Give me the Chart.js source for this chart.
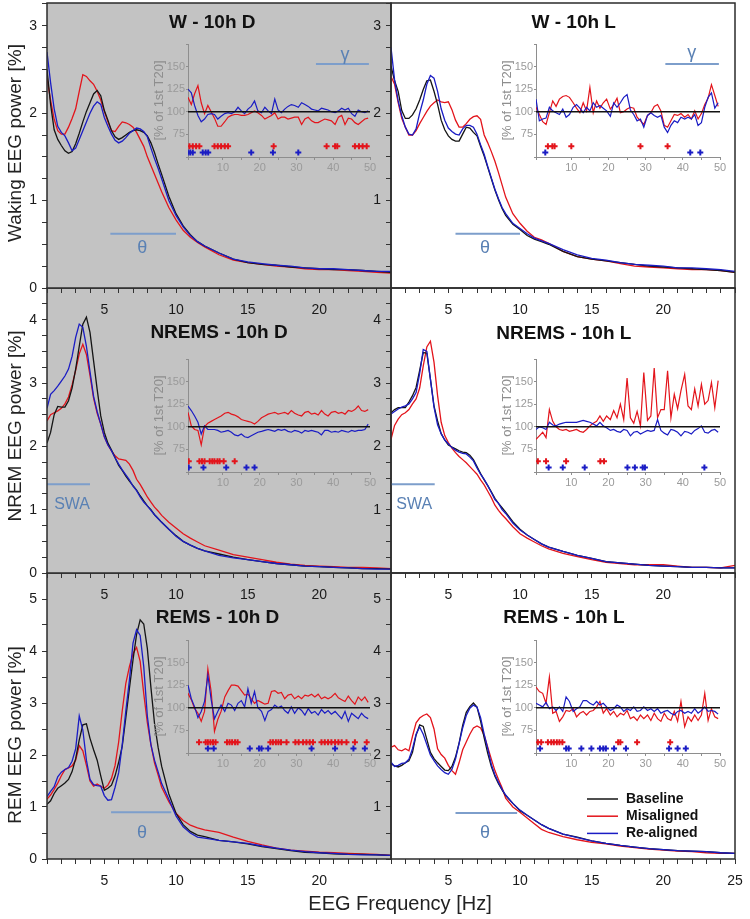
<!DOCTYPE html>
<html><head><meta charset="utf-8">
<script src="https://cdn.jsdelivr.net/npm/chart.js@4.4.1/dist/chart.umd.min.js"></script>
<style>
html,body{margin:0;padding:0;background:#fff;}
#wrap{position:relative;width:750px;height:919px;overflow:hidden;font-family:"Liberation Sans",Arial,sans-serif;}
canvas{position:absolute;}
.yt{position:absolute;white-space:nowrap;font-size:19px;color:#222;transform:translate(-50%,-50%) rotate(-90deg);z-index:100;}
.xt{position:absolute;white-space:nowrap;font-size:20px;color:#222;transform:translate(-50%,-50%);z-index:100;}
</style></head><body><div id="wrap">
<div class="yt" style="left:15px;top:143px">Waking EEG power [%]</div>
<div class="yt" style="left:15px;top:426px">NREM EEG power [%]</div>
<div class="yt" style="left:15px;top:735px">REM EEG power [%]</div>
<div class="xt" style="left:400px;top:903px">EEG Frequency [Hz]</div>
</div>
<script>
// ---------- main spectra: frequency grid (Hz) ----------
const F_MAIN = [1,1.25,1.5,1.75,2,2.25,2.5,2.75,3,3.25,3.5,3.75,4,4.25,4.5,4.75,5,5.25,5.5,5.75,6,6.25,6.5,6.75,7,7.25,7.5,7.75,8,8.25,8.5,8.75,9,9.5,10,10.5,11,11.5,12,13,14,15,16,17,18,19,20,21,22,23,24,25];

// Waking, 10h D
const wD_black = [2.50,2.10,1.81,1.70,1.63,1.57,1.54,1.56,1.65,1.77, 1.90,2.02,2.12,2.22,2.26,2.20,2.03,1.92,1.80,1.73, 1.70,1.72,1.75,1.78,1.80,1.81,1.80,1.78,1.74,1.66, 1.55,1.42,1.30,1.05,0.85,0.71,0.61,0.53,0.48,0.40, 0.33,0.29,0.27,0.26,0.24,0.23,0.22,0.21,0.21,0.20, 0.19,0.18];
const wD_red   = [2.40,2.15,1.93,1.80,1.76,1.76,1.84,1.94,2.05,2.25, 2.44,2.42,2.37,2.33,2.25,2.15,2.02,1.90,1.80,1.79, 1.85,1.90,1.89,1.87,1.84,1.78,1.70,1.62,1.50,1.40, 1.30,1.20,1.10,0.92,0.78,0.66,0.58,0.52,0.47,0.38, 0.32,0.29,0.27,0.25,0.24,0.22,0.21,0.21,0.20,0.19, 0.18,0.17];
const wD_blue  = [2.70,2.35,2.05,1.85,1.78,1.74,1.66,1.57,1.60,1.70, 1.80,1.90,2.00,2.08,2.13,2.10,1.95,1.85,1.76,1.69, 1.66,1.68,1.72,1.77,1.80,1.83,1.82,1.79,1.73,1.60, 1.48,1.37,1.25,1.00,0.83,0.70,0.60,0.53,0.48,0.40, 0.33,0.30,0.28,0.26,0.25,0.23,0.22,0.22,0.21,0.20, 0.19,0.19];
// Waking, 10h L
const wL_black = [2.54,2.37,2.25,2.03,1.94,1.94,1.98,2.05,2.15,2.27, 2.37,2.38,2.25,2.10,1.92,1.81,1.74,1.70,1.68,1.68, 1.76,1.84,1.83,1.78,1.74,1.62,1.51,1.38,1.25,1.12, 1.01,0.91,0.83,0.73,0.67,0.60,0.56,0.53,0.50,0.42, 0.36,0.33,0.31,0.29,0.27,0.25,0.24,0.23,0.22,0.21, 0.20,0.18];
const wL_red   = [2.42,2.33,2.12,1.94,1.84,1.75,1.75,1.80,1.88,1.95, 2.02,2.08,2.12,2.15,2.13,2.12,2.13,2.04,1.92,1.84, 1.84,1.88,1.93,1.96,1.97,1.93,1.75,1.66,1.56,1.45, 1.32,1.18,1.04,0.85,0.74,0.65,0.58,0.55,0.51,0.42, 0.36,0.33,0.31,0.28,0.25,0.24,0.23,0.22,0.21,0.21, 0.20,0.18];
const wL_blue  = [2.75,2.38,2.14,1.97,1.84,1.76,1.75,1.82,2.00,2.15, 2.33,2.43,2.40,2.25,2.05,1.92,1.83,1.79,1.76,1.75, 1.82,1.86,1.86,1.84,1.76,1.64,1.53,1.39,1.26,1.13, 1.02,0.92,0.85,0.74,0.68,0.62,0.57,0.54,0.51,0.44, 0.38,0.34,0.32,0.29,0.27,0.26,0.25,0.23,0.23,0.22, 0.21,0.19];
// NREM, 10h D
const nD_black = [2.05,2.22,2.50,2.63,2.62,2.62,2.72,2.92,3.22,3.58, 3.93,4.04,3.80,3.35,2.90,2.48,2.22,2.05,1.94,1.82, 1.70,1.62,1.53,1.45,1.38,1.31,1.22,1.14,1.06,1.00, 0.92,0.86,0.80,0.69,0.59,0.50,0.44,0.39,0.35,0.30, 0.25,0.21,0.18,0.15,0.13,0.11,0.10,0.09,0.08,0.07, 0.07,0.06];
const nD_red   = [2.40,2.50,2.53,2.56,2.60,2.67,2.78,2.97,3.20,3.46, 3.61,3.45,3.12,2.76,2.52,2.35,2.15,2.02,1.93,1.85, 1.80,1.79,1.78,1.72,1.62,1.48,1.40,1.30,1.20,1.12, 1.04,0.98,0.91,0.80,0.71,0.62,0.55,0.49,0.43,0.36, 0.29,0.25,0.21,0.17,0.14,0.12,0.11,0.10,0.09,0.09, 0.08,0.07];
const nD_blue  = [2.60,2.82,2.88,2.95,3.03,3.11,3.22,3.42,3.72,3.93, 3.88,3.58,3.18,2.79,2.55,2.35,2.15,2.02,1.93,1.82, 1.72,1.63,1.55,1.47,1.37,1.30,1.20,1.12,1.06,0.99, 0.92,0.86,0.80,0.69,0.58,0.50,0.44,0.39,0.35,0.28, 0.24,0.21,0.18,0.15,0.13,0.11,0.10,0.09,0.08,0.07, 0.06,0.06];
// NREM, 10h L
const nL_black = [2.53,2.58,2.61,2.61,2.61,2.70,2.80,2.93,3.20,3.48, 3.47,3.06,2.64,2.40,2.20,2.10,2.02,1.99,1.96,1.93, 1.91,1.90,1.86,1.79,1.68,1.57,1.47,1.38,1.28,1.18, 1.10,1.03,0.96,0.81,0.69,0.60,0.53,0.46,0.41,0.34, 0.28,0.23,0.18,0.16,0.14,0.12,0.11,0.10,0.09,0.09, 0.08,0.08];
const nL_red   = [2.11,2.33,2.43,2.50,2.53,2.58,2.67,2.75,2.92,3.27, 3.57,3.66,3.33,2.80,2.38,2.17,2.06,1.97,1.90,1.84, 1.79,1.74,1.68,1.62,1.56,1.47,1.39,1.29,1.19,1.07, 0.99,0.92,0.86,0.73,0.62,0.55,0.49,0.43,0.38,0.31, 0.26,0.21,0.17,0.15,0.13,0.13,0.13,0.11,0.09,0.09, 0.08,0.12];
const nL_blue  = [2.51,2.55,2.59,2.62,2.64,2.67,2.75,2.85,3.15,3.53, 3.50,3.06,2.62,2.34,2.20,2.10,2.04,1.98,1.94,1.91, 1.89,1.88,1.83,1.77,1.66,1.56,1.48,1.38,1.27,1.16, 1.10,1.00,0.94,0.79,0.68,0.60,0.53,0.46,0.41,0.34, 0.28,0.23,0.18,0.16,0.14,0.12,0.11,0.10,0.09,0.09, 0.08,0.08];
// REM, 10h D
const rD_black = [1.05,1.12,1.26,1.36,1.41,1.46,1.53,1.68,1.93,2.29, 2.58,2.60,2.32,2.10,1.90,1.60,1.32,1.36,1.42,1.60, 1.86,2.17,2.72,3.28,3.83,4.32,4.60,4.52,4.05,3.30, 2.61,2.15,1.78,1.25,0.88,0.66,0.53,0.46,0.43,0.36, 0.33,0.29,0.24,0.20,0.16,0.13,0.12,0.10,0.09,0.09, 0.08,0.07];
const rD_red   = [1.15,1.23,1.34,1.46,1.60,1.72,1.75,1.79,1.90,2.18, 2.08,1.80,1.50,1.40,1.44,1.40,1.36,1.42,1.55,1.80, 2.25,2.85,3.38,3.70,3.95,4.07,3.80,3.18,2.62,2.20, 1.85,1.62,1.38,1.10,0.88,0.74,0.65,0.60,0.56,0.51, 0.42,0.34,0.27,0.21,0.17,0.15,0.13,0.12,0.11,0.10, 0.09,0.07];
const rD_blue  = [1.20,1.30,1.39,1.58,1.67,1.72,1.76,1.88,2.12,2.75, 2.48,1.90,1.53,1.43,1.41,1.40,1.22,1.13,1.14,1.38, 1.66,2.20,2.85,3.44,4.15,4.41,4.30,3.70,2.75,2.20, 1.90,1.68,1.45,1.15,0.83,0.62,0.50,0.42,0.40,0.36, 0.33,0.30,0.25,0.21,0.17,0.14,0.12,0.11,0.09,0.08, 0.08,0.07];
// REM, 10h L
const rL_black = [1.83,1.79,1.77,1.80,1.85,1.89,2.05,2.38,2.58,2.55, 2.30,2.05,1.93,1.85,1.78,1.71,1.70,1.78,1.96,2.23, 2.57,2.82,2.93,3.00,2.92,2.65,2.33,2.03,1.78,1.59, 1.45,1.33,1.22,1.07,0.93,0.84,0.75,0.66,0.59,0.48, 0.42,0.35,0.30,0.26,0.23,0.20,0.18,0.16,0.15,0.14, 0.12,0.11];
const rL_red   = [2.15,2.18,2.10,2.08,2.12,2.08,2.36,2.62,2.71,2.76, 2.79,2.72,2.50,2.12,2.01,1.94,1.80,1.70,1.63,1.85, 2.10,2.25,2.40,2.52,2.56,2.52,2.38,2.15,1.92,1.70, 1.53,1.37,1.17,1.00,0.90,0.79,0.68,0.57,0.51,0.43, 0.37,0.32,0.29,0.25,0.22,0.19,0.17,0.15,0.14,0.12, 0.11,0.11];
const rL_blue  = [1.86,1.78,1.80,1.84,1.85,1.92,2.12,2.40,2.54,2.40, 2.20,2.00,1.89,1.79,1.72,1.66,1.63,1.72,1.92,2.22, 2.52,2.76,2.90,2.96,2.92,2.72,2.40,2.12,1.82,1.62, 1.47,1.34,1.23,1.07,0.94,0.84,0.75,0.66,0.59,0.48, 0.41,0.35,0.30,0.26,0.23,0.20,0.18,0.16,0.15,0.14, 0.12,0.11];

// frequency bands marked in the main panels [from Hz, to Hz] and level
const thetaW_D = [5.42, 10.0], thetaW_L = [5.5, 10.0], thetaLevelW = 0.62;
const swa_D = [0.9, 4.0], swa_L = [1.0, 4.05], swaLevel = 1.40;
const thetaR_D = [5.47, 9.67], thetaR_L = [5.5, 9.8], thetaLevelR_D = 0.90, thetaLevelR_L = 0.885;

// ---------- insets: % of 1st T20 ----------
const F_IN = [0.5,1.4,2.3,3.2,4.1,5.0,5.9,6.8,7.7,8.6, 9.5,10.5,11.4,12.3,13.2,14.1,15.0,15.9,16.8,17.7, 18.6,19.5,20.5,21.4,22.3,23.2,24.1,25.0,25.9,26.8, 27.7,28.6,29.5,30.5,31.4,32.3,33.2,34.1,35.0,35.9, 36.8,37.7,38.6,39.5,40.5,41.4,42.3,43.2,44.1,45.0, 45.9,46.8,47.7,48.6,49.5];
const REF_X = [0.5, 50];
const wDi_red  = [116,108,120,129,110,98,107,100,93,84, 84,89,94,96,97,97,96,96,97,99, 101,99,96,92,94,96,99,92,94,94, 92,93,94,94,86,92,94,90,88,88, 90,92,91,90,86,94,96,86,93,92, 88,86,89,92,93];
const wDi_blue = [125,121,107,96,89,92,97,98,97,92, 95,98,99,98,100,105,101,98,103,106, 112,101,99,105,101,98,114,102,99,103, 106,108,107,105,110,108,106,103,102,101, 104,103,102,100,99,101,104,102,104,98, 95,102,100,99,101];
const wLi_red  = [105,97,89,86,99,112,106,114,117,118, 116,110,104,99,110,101,127,99,112,104, 110,114,103,108,115,99,100,103,105,104, 94,90,86,96,99,106,108,101,85,83, 90,97,96,98,94,97,92,101,92,98, 108,115,130,118,106];
const wLi_blue = [114,90,92,93,105,101,99,97,103,94, 97,105,108,104,99,105,101,110,105,107, 104,101,95,110,105,110,116,119,102,97, 90,92,83,96,99,96,94,96,83,77, 85,90,88,94,92,94,92,97,85,88, 105,116,121,104,110];
const nDi_red  = [116,101,97,96,80,100,104,106,108,110, 112,115,116,114,113,111,108,107,106,105, 103,106,110,112,114,115,116,114,115,116, 114,118,115,113,112,116,117,114,115,113, 118,114,112,116,117,115,116,114,118,117, 119,123,118,117,119];
const nDi_blue = [123,118,112,105,92,101,97,97,97,96, 94,95,96,94,91,90,92,89,88,90, 92,94,95,96,97,96,95,97,96,97, 95,94,96,95,93,96,95,96,95,94, 91,96,96,94,95,94,96,95,94,96, 95,96,96,97,103];
const nLi_red  = [86,90,94,88,119,106,100,97,96,97, 95,96,97,95,94,97,101,104,106,112, 106,112,108,118,110,125,108,154,110,104, 117,101,160,107,112,165,110,119,119,162, 110,136,120,140,158,123,119,142,123,147, 125,129,149,121,151];
const nLi_blue = [97,100,99,97,105,102,101,103,104,105, 105,105,105,106,107,106,105,103,101,105, 101,99,96,97,95,94,97,96,90,94, 95,92,94,96,95,96,108,96,93,91, 97,96,94,90,95,94,92,96,98,101, 94,93,96,97,94];
const rDi_red  = [116,109,99,94,85,96,143,118,74,87, 96,112,119,125,125,124,119,114,115,110, 105,108,106,104,105,118,119,116,117,110, 114,115,110,113,110,114,113,115,112,115, 110,112,110,112,116,111,109,107,113,108, 104,112,108,112,106];
const rDi_blue = [125,110,101,89,96,107,136,109,88,96, 103,96,105,103,97,105,108,101,121,105, 118,100,96,86,96,98,103,100,102,97, 94,101,94,100,97,92,99,94,96,92, 98,94,97,93,96,92,88,96,85,94, 91,88,94,90,88];
const rLi_red  = [123,118,116,105,134,94,96,85,90,97, 96,99,90,94,96,92,96,97,101,107, 94,99,92,96,90,94,92,97,88,90, 86,92,88,92,86,94,88,85,94,88, 86,96,85,107,79,90,85,92,86,92, 116,86,99,90,88];
const rLi_blue = [105,103,101,106,99,101,97,101,96,112, 107,96,99,101,108,108,105,103,107,103, 105,101,97,99,103,101,96,99,97,101, 96,97,101,97,99,96,99,94,96,97, 94,92,96,97,94,96,94,99,94,97, 101,96,97,96,93];
// significance markers (Hz)
const wD_sigR = [0.9,1.8,2.7,3.6,7.7,8.6,9.5,10.5,11.4,23.8,38.2,40.5,41.1,45.9,47,48,49.1];
const wD_sigB = [0.45,1.1,1.8,4.5,5.3,6.0,17.7,23.6,30.5];
const wL_sigR = [3.7,4.9,5.5,10,28.6,35.9];
const wL_sigB = [3,42,44.7];
const nD_sigR = [0.7,3.6,4.3,5,6.4,7.1,7.7,8.5,9.1,10.2,13.2];
const nD_sigB = [0.7,4.7,10.9,16.4,18.6];
const nL_sigR = [1,3.2,8.6,17.8,18.8];
const nL_sigB = [3.9,7.7,13.6,25.1,27.1,29.2,29.8,45.8];
const rD_sigR = [3.5,5.3,5.9,6.6,7.3,8,11.1,11.8,12.5,13.3,14,22.9,23.6,24.4,25.1,25.8,27.3,29.7,30.6,31.8,32.7,33.6,34.5,36.8,37.7,38.6,39.5,40.5,41.4,42.3,43.6,45.9,49.1];
const rD_sigB = [5.9,7.5,17.3,19.8,20.5,22.3,34.1,40.5,45.5,48.6];
const rL_sigR = [1,1.9,3.7,4.6,5.3,6.1,6.8,7.6,22.6,23.2,27.7,36.6];
const rL_sigB = [1.6,8.6,9.3,12.7,15.4,17.7,18.6,19.3,21.5,24.7,36.3,38.6,40.8];
const SIG_R_LEVEL = 62, SIG_B_LEVEL = 55;
const gammaBand = [35.3, 49.7], gammaLevel = 153;

// ---------- styling ----------
const FONT = '"Liberation Sans", Arial, sans-serif';
const C_BLACK = '#141414', C_RED = '#e3141b', C_BLUE = '#1a1cc4';
const C_BAND = '#7d9ecb', C_BANDTXT = '#5a81b4', C_BG = '#c3c3c3', C_INSET = '#8e8e8e', C_INSETTXT = '#9a9a9a';

const panelBg = {id:'panelBg', beforeDraw(chart, a, o){ if(!o.color) return; const {ctx, chartArea:c} = chart; ctx.save(); ctx.fillStyle=o.color; ctx.fillRect(c.left,c.top,c.right-c.left,c.bottom-c.top); ctx.restore(); }};
const frame = {id:'frame', afterDatasetsDraw(chart, a, o){ if(!o.color) return; const {ctx, chartArea:c} = chart; ctx.save(); ctx.strokeStyle=o.color; ctx.lineWidth=o.width||1.5; ctx.strokeRect(c.left,c.top,c.right-c.left,c.bottom-c.top); ctx.restore(); }};
const texts = {id:'texts', afterDatasetsDraw(chart, a, o){ if(!o.items) return; const {ctx, scales:{x,y}} = chart; o.items.forEach(it=>{ ctx.save(); ctx.font=it.font; ctx.fillStyle=it.color; ctx.textAlign='center'; ctx.textBaseline='middle'; ctx.fillText(it.text, x.getPixelForValue(it.x), y.getPixelForValue(it.y)); ctx.restore(); }); }};
const miniLegend = {id:'miniLegend', afterDatasetsDraw(chart, a, o){
  if(!o.items) return; const {ctx, chartArea:c} = chart; ctx.save();
  ctx.font=o.font; ctx.textBaseline='middle'; ctx.textAlign='left';
  o.items.forEach((label,i)=>{ const ds = chart.data.datasets.find(d=>d.label===label); const y = c.top + o.top + i*o.gap;
    ctx.strokeStyle=ds.borderColor; ctx.lineWidth=1.5; ctx.beginPath(); ctx.moveTo(c.left+o.x0,y); ctx.lineTo(c.left+o.x1,y); ctx.stroke();
    ctx.fillStyle='#111'; ctx.fillText(label, c.left+o.tx, y); });
  ctx.restore(); }};
Chart.register(panelBg, frame, texts, miniLegend);

const wrap = document.getElementById('wrap');
function makeCanvas(left, top, w, h, z){
  const c = document.createElement('canvas'); c.width=w; c.height=h;
  c.style.left=left+'px'; c.style.top=top+'px'; c.style.width=w+'px'; c.style.height=h+'px'; c.style.zIndex=z;
  wrap.appendChild(c); return c;
}
const pts = (xs, ys) => xs.map((x,i)=>({x, y: ys[i]}));
const flat = (xs, v) => xs.map(x=>({x, y: v}));

const COLS = [{l:47, r:391}, {l:391, r:735}];
const ROWS = [{t:3, b:288}, {t:288, b:573}, {t:573, b:859}];
const YW = 47, XH = 40, PT = 2;

function mainPanel(p){
  const col = COLS[p.col], row = ROWS[p.row];
  const PR = p.col===0 ? 3 : 12;
  const left = col.l - YW, top = row.t - PT;
  const w = YW + (col.r-col.l) + PR, h = PT + (row.b-row.t) + XH;
  const z = 10 + (2-p.row)*10 + p.col*2;
  const cv = makeCanvas(left, top, w, h, z);
  const line = (label, ys, color) => ({label, data: pts(F_MAIN, ys), borderColor: color, borderWidth: 1.3, pointRadius: 0, fill: false});
  new Chart(cv, {
    type: 'line',
    data: {datasets: [
      line('Re-aligned', p.blue, C_BLUE),
      line('Baseline', p.black, C_BLACK),
      line('Misaligned', p.red, C_RED),
      {label: p.bandText + ' band', data: flat(p.band, p.bandLevel), borderColor: C_BAND, borderWidth: 2, pointRadius: 0}
    ]},
    options: {
      responsive: false, animation: false, devicePixelRatio: 1,
      layout: {padding: {left: 0, top: PT, right: PR, bottom: 0}},
      elements: {line: {tension: 0}},
      plugins: {
        legend: {display: false}, tooltip: {enabled: false},
        panelBg: {color: p.col===0 ? C_BG : null},
        frame: {color: '#2b2b2b', width: 1.5},
        texts: {items: [
          {text: p.title, x: p.titleAt[0], y: p.titleAt[1], font: 'bold 19px ' + FONT, color: '#111'},
          {text: p.bandText, x: p.bandTextAt[0], y: p.bandTextAt[1], font: p.bandFont + 'px ' + FONT, color: C_BANDTXT}
        ]},
        miniLegend: p.legend ? {items: ['Baseline','Misaligned','Re-aligned'], x0: 196, x1: 227, tx: 235, top: 226, gap: 17.2, font: 'bold 14px ' + FONT} : {}
      },
      scales: {
        x: {type: 'linear', min: 1, max: 25,
          afterFit: s => { s.height = XH; s.paddingLeft = 0; s.paddingRight = 0; },
          border: {display: false},
          grid: {drawOnChartArea: false, drawTicks: true, tickLength: 5, color: '#333'},
          ticks: {stepSize: 1, autoSkip: false, maxRotation: 0, padding: 9, color: '#1a1a1a', font: {family: FONT, size: 14},
            callback: v => (v % 5 === 0 && (v < 25 || p.show25)) ? String(v) : ''}},
        y: {type: 'linear', min: 0, max: p.ymax,
          afterFit: s => { s.width = YW; s.paddingTop = 0; s.paddingBottom = 0; },
          border: {display: false},
          grid: {drawOnChartArea: false, drawTicks: true, tickLength: 5, color: '#333'},
          ticks: {stepSize: p.ystep, includeBounds: false, autoSkip: false, padding: 5, color: '#1a1a1a', font: {family: FONT, size: 14},
            callback: v => (Number.isInteger(v) && (v > 0 || p.col === 0)) ? String(v) : ''}}
      }
    }
  });
}

const ICOLS = [{l:188, r:370}, {l:536, r:720}];
const IROWS = [{t:42, b:157}, {t:357, b:472}, {t:638, b:753}];
const IW = 40, IH = 20, IPT = 4, IPR = 8;
function insetPanel(p){
  const col = ICOLS[p.col], row = IROWS[p.row];
  const left = col.l - IW, top = row.t - IPT;
  const w = IW + (col.r-col.l) + IPR, h = IPT + (row.b-row.t) + IH;
  const z = 10 + (2-p.row)*10 + p.col*2 + 1;
  const cv = makeCanvas(left, top, w, h, z);
  const sig = (xs, lvl, color) => ({label: 'sig', data: flat(xs, lvl), showLine: false, pointStyle: 'cross', pointRadius: 3, pointBorderWidth: 2, borderColor: color, backgroundColor: color});
  const ds = [
    {label: 'ref', data: flat(REF_X, 100), borderColor: '#111', borderWidth: 1.6, pointRadius: 0},
    {label: 'Re-aligned', data: pts(F_IN, p.blue), borderColor: C_BLUE, borderWidth: 1.2, pointRadius: 0},
    {label: 'Misaligned', data: pts(F_IN, p.red), borderColor: C_RED, borderWidth: 1.2, pointRadius: 0},
    sig(p.sigR, SIG_R_LEVEL, C_RED),
    sig(p.sigB, SIG_B_LEVEL, C_BLUE)
  ];
  const items = [];
  if (p.gamma) {
    ds.push({label: 'γ band', data: flat(gammaBand, gammaLevel), borderColor: C_BAND, borderWidth: 2, pointRadius: 0});
    items.push({text: 'γ', x: p.gammaTextAt[0], y: p.gammaTextAt[1], font: '18px ' + FONT, color: C_BANDTXT});
  }
  new Chart(cv, {
    type: 'line',
    data: {datasets: ds},
    options: {
      responsive: false, animation: false, devicePixelRatio: 1,
      layout: {padding: {left: 0, top: IPT, right: IPR, bottom: 0}},
      elements: {line: {tension: 0}},
      plugins: {legend: {display: false}, tooltip: {enabled: false}, texts: {items}},
      scales: {
        x: {type: 'linear', min: 0.5, max: 50,
          afterFit: s => { s.height = IH; s.paddingLeft = 0; s.paddingRight = 0; },
          border: {display: true, color: C_INSET, width: 1},
          grid: {drawOnChartArea: false, tickLength: 3, color: C_INSET},
          ticks: {stepSize: 5, autoSkip: false, maxRotation: 0, padding: 1, color: C_INSETTXT, font: {family: FONT, size: 11},
            callback: v => (v % 10 === 0) ? String(v) : ''}},
        y: {type: 'linear', min: 50, max: 175,
          afterFit: s => { s.width = IW; s.paddingTop = 0; s.paddingBottom = 0; },
          border: {display: true, color: C_INSET, width: 1},
          grid: {drawOnChartArea: false, tickLength: 2, color: C_INSET},
          title: {display: true, text: '[% of 1st T20]', color: C_INSET, font: {family: FONT, size: 13}, padding: {top: 4, bottom: 0}},
          ticks: {stepSize: 25, includeBounds: false, autoSkip: false, padding: 1, color: C_INSETTXT, font: {family: FONT, size: 11},
            callback: v => (v > 50 && v < 175) ? String(v) : ''}}
      }
    }
  });
}

const panels = [
  {row:0, col:0, title:'W - 10h D', titleAt:[12.53,3.03], black:wD_black, red:wD_red, blue:wD_blue, ymax:3.26, ystep:0.25, band:thetaW_D, bandLevel:thetaLevelW, bandText:'θ', bandTextAt:[7.64,0.46], bandFont:18},
  {row:0, col:1, title:'W - 10h L', titleAt:[13.75,3.03], black:wL_black, red:wL_red, blue:wL_blue, ymax:3.26, ystep:0.25, band:thetaW_L, bandLevel:thetaLevelW, bandText:'θ', bandTextAt:[7.55,0.46], bandFont:18},
  {row:1, col:0, title:'NREMS - 10h D', titleAt:[13.0,3.80], black:nD_black, red:nD_red, blue:nD_blue, ymax:4.5, ystep:0.25, band:swa_D, bandLevel:swaLevel, bandText:'SWA', bandTextAt:[2.75,1.08], bandFont:16},
  {row:1, col:1, title:'NREMS - 10h L', titleAt:[13.06,3.77], black:nL_black, red:nL_red, blue:nL_blue, ymax:4.5, ystep:0.25, band:swa_L, bandLevel:swaLevel, bandText:'SWA', bandTextAt:[2.62,1.08], bandFont:16},
  {row:2, col:0, title:'REMS - 10h D', titleAt:[12.9,4.64], black:rD_black, red:rD_red, blue:rD_blue, ymax:5.5, ystep:0.5, band:thetaR_D, bandLevel:thetaLevelR_D, bandText:'θ', bandTextAt:[7.62,0.49], bandFont:18},
  {row:2, col:1, title:'REMS - 10h L', titleAt:[13.06,4.64], black:rL_black, red:rL_red, blue:rL_blue, ymax:5.5, ystep:0.5, band:thetaR_L, bandLevel:thetaLevelR_L, bandText:'θ', bandTextAt:[7.55,0.49], bandFont:18, legend:true, show25:true}
];
const insets = [
  {row:0, col:0, red:wDi_red, blue:wDi_blue, sigR:wD_sigR, sigB:wD_sigB, gamma:true, gammaTextAt:[43.2,163]},
  {row:0, col:1, red:wLi_red, blue:wLi_blue, sigR:wL_sigR, sigB:wL_sigB, gamma:true, gammaTextAt:[42.4,165]},
  {row:1, col:0, red:nDi_red, blue:nDi_blue, sigR:nD_sigR, sigB:nD_sigB},
  {row:1, col:1, red:nLi_red, blue:nLi_blue, sigR:nL_sigR, sigB:nL_sigB},
  {row:2, col:0, red:rDi_red, blue:rDi_blue, sigR:rD_sigR, sigB:rD_sigB},
  {row:2, col:1, red:rLi_red, blue:rLi_blue, sigR:rL_sigR, sigB:rL_sigB}
];
panels.forEach(mainPanel);
insets.forEach(insetPanel);
</script></body></html>
